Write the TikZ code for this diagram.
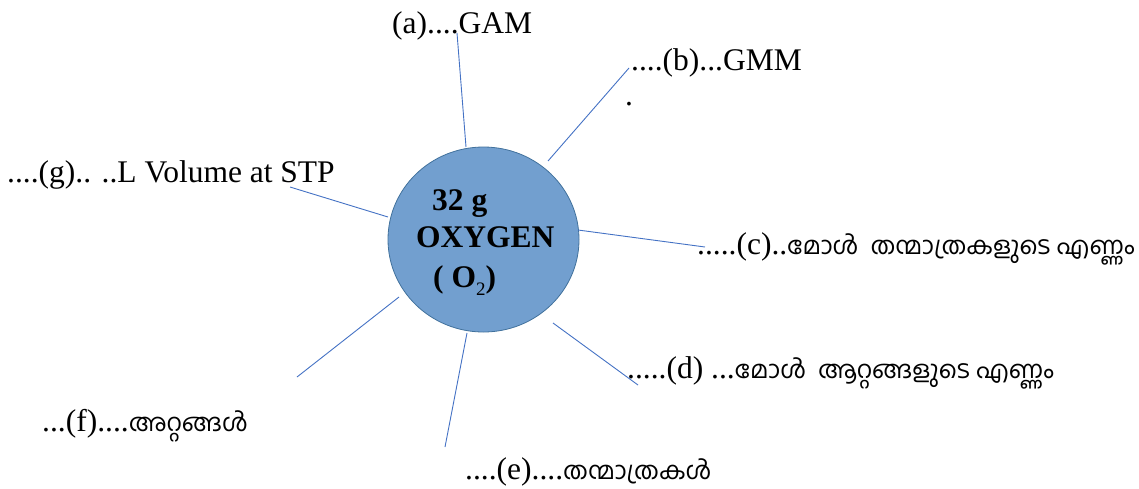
\documentclass[tikz,border=0pt]{standalone}
\usepackage{fontspec}
\setmainfont{Liberation Serif}
\newfontfamily\malfont[Script=Malayalam]{Hind Kochi}
\newcommand{\mal}[1]{{\malfont\fontsize{24.5}{38}\selectfont #1}}
\usetikzlibrary{shapes.geometric, positioning}

\definecolor{oxyfill}{RGB}{114,159,207}
\definecolor{oxyline}{RGB}{65,113,156}
\definecolor{spokeblue}{RGB}{68,114,196}

\tikzset{
  lbl/.style={anchor=base west, inner sep=0pt, font=\fontsize{31.5}{38}\selectfont},
  midlbl/.style={lbl, font=\fontsize{31.5}{38}\selectfont\bfseries},
  spoke/.style={draw=spokeblue, line width=0.9pt}
}

\begin{document}
\begin{tikzpicture}[x=1pt, y=-1pt]
                        \useasboundingbox (0,0) rectangle (1139,488);

                        \node[ellipse, draw=oxyline, fill=oxyfill, line width=0.8pt,
                              minimum width=191pt, minimum height=185pt, inner sep=0pt]
                              (oxy) at (483.5,239.5) {};
                        \node[midlbl] (l1) at (432,210) {32 g};
                        \node[midlbl] (l2) at (416,247) {OXYGEN};
                        \node[midlbl] (l3) at (433,287) {( O{\fontsize{19}{19}\selectfont\mdseries\raisebox{-8pt}{2}})};

                        \node[lbl] (ta) at (392,33) {(a)....GAM};
                        \node[lbl] (tb) at (631,70) {....(b)...GMM};
                        \node[lbl] (tbd) at (625,105) {.};
                        \node[lbl] (tc) at (697,254) {.....(c)..\mal{മോൾ\ \ തന്മാത്രകളുടെ എണ്ണം}};
                        \node[lbl] (td) at (627,378) {.....(d) ...\mal{മോൾ\ \ ആറ്റങ്ങളുടെ എണ്ണം}};
                        \node[lbl] (te) at (465,479) {....(e)....\mal{തന്മാത്രകൾ}};
                        \node[lbl] (tf) at (42,431) {...(f)....\mal{അറ്റങ്ങൾ}};
                        \node[lbl] (tg) at (7,182) {....(g).. ..L Volume at STP};

                        % spoke ends
                        \coordinate (a1) at (466,147);  \coordinate (a2) at (457,33);
                        \coordinate (b1) at (548,161);  \coordinate (b2) at (629,68);
                        \coordinate (c1) at (578,230);  \coordinate (c2) at (705,247);
                        \coordinate (d1) at (553,323);  \coordinate (d2) at (638,385);
                        \coordinate (e1) at (467,333);  \coordinate (e2) at (445,447);
                        \coordinate (f1) at (399,297);  \coordinate (f2) at (297,377);
                        \coordinate (g1) at (388,217);  \coordinate (g2) at (290,187);

                        \draw[spoke]
                        (a1) edge (a2)
                        (b1) edge (b2)
                        (c1) edge (c2)
                        (d1) edge (d2)
                        (e1) edge (e2)
                        (f1) edge (f2)
                        (g1) edge (g2);
                    \end{tikzpicture}
\end{document}
